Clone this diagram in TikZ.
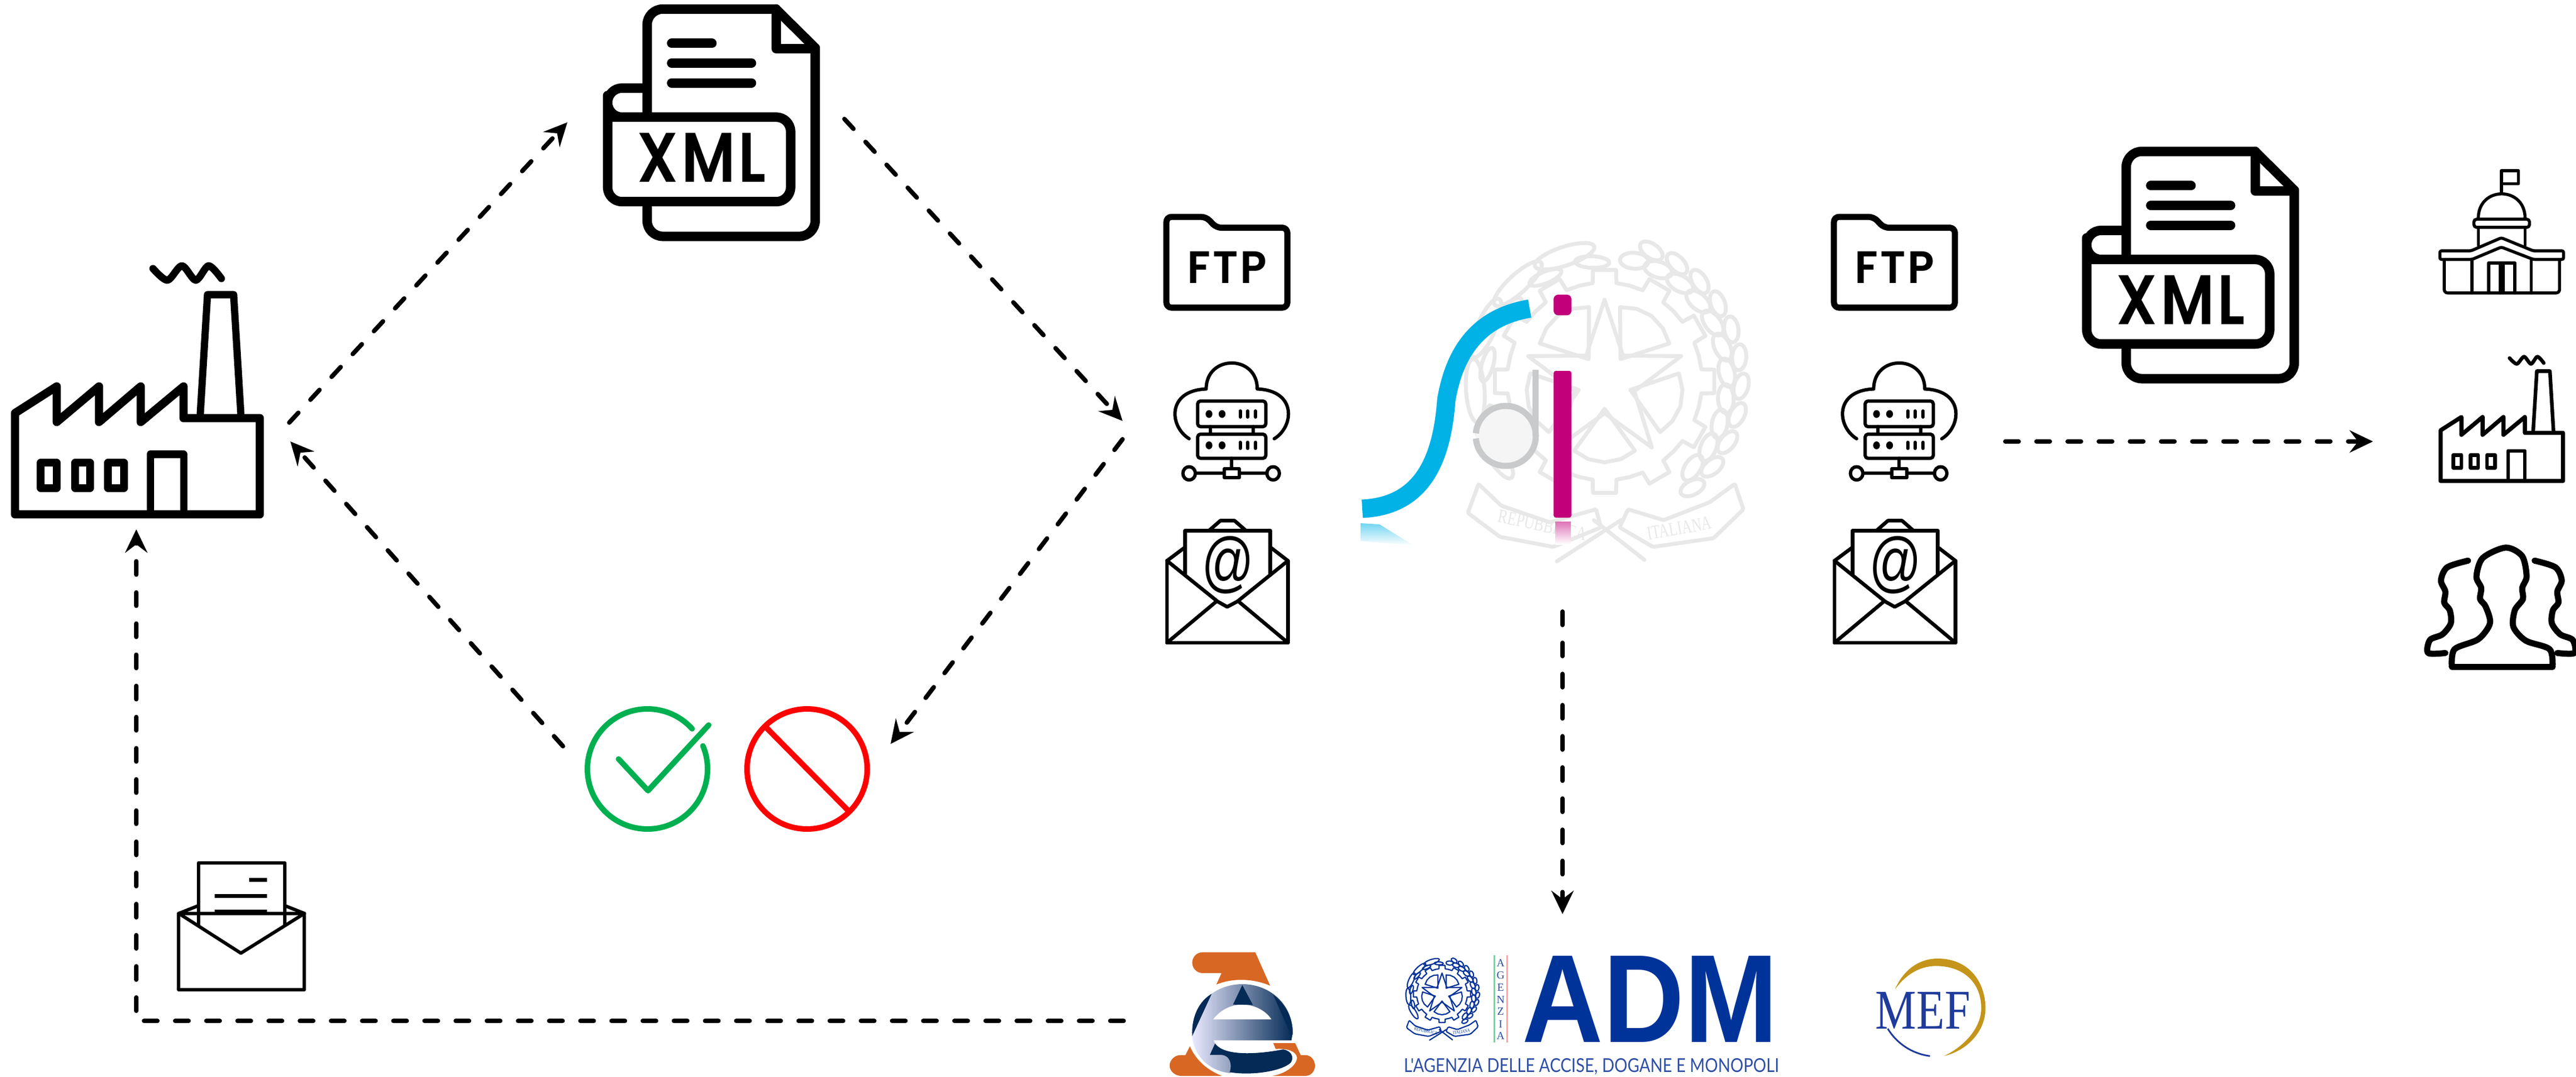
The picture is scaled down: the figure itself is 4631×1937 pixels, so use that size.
\documentclass[tikz,border=0pt]{standalone}
\usepackage{fontspec}
\usepackage{graphicx}
\usetikzlibrary{arrows.meta,calc}
\newfontfamily\rndfont{Poppins SemiBold}[LetterSpace=5]
\newfontfamily\helfont{Liberation Sans}
\newfontfamily\serfont{Liberation Serif}
\newfontfamily\latofont{Lato}
\definecolor{sdiblue}{HTML}{00B2E6}
\definecolor{sdipink}{HTML}{C2007A}
\definecolor{sdigray}{HTML}{C8CACC}
\definecolor{okgreen}{HTML}{00B050}
\definecolor{admblue}{HTML}{003399}
\definecolor{admtxt}{HTML}{2F4FA5}
\definecolor{eorange}{HTML}{D86724}
\definecolor{enavy}{HTML}{042A56}
\definecolor{mefgold}{HTML}{C4951A}
\definecolor{mefblue}{HTML}{1F3B9B}
\tikzset{
  flow/.style={line width=.08cm,dash pattern=on .24cm off .32cm,line cap=round,
    -{Stealth[length=.42cm,width=.4cm,inset=.15cm]}},
  ink/.style={line join=round,line cap=round},
  tx/.style={inner sep=0pt,outer sep=0pt},
}
\newcommand{\factoryicon}[3]{%
\begin{scope}[shift={#1},scale=#2,line width=#3,ink]
  \draw[line width=1.15*#3] (27,925) -- (27,743) -- (102,695) -- (102,759) -- (178,695) -- (178,759) -- (253,695) -- (253,759) -- (330,695) -- (330,752) -- (467,752) -- (467,925) -- cycle;
  \draw (360,745) -- (373,530) -- (420,530) -- (433,745);
  \draw (73,832) rectangle (102,878);
  \draw (135,832) rectangle (162,878);
  \draw (194,832) rectangle (223,878);
  \draw (270,925) -- (270,817) -- (330,817) -- (330,925);
  \draw plot[smooth] coordinates {(275,483) (301,504) (327,478) (352,504) (375,478) (398,501)};
\end{scope}}
\newcommand{\xmlicon}[1]{%
\begin{scope}[shift={#1},xscale=.658,yscale=.67,line width=.17cm,ink]
  \draw[rounded corners=.28cm] (338,385) -- (338,108) -- (690,108);
  \draw (690,108) -- (797,212);
  \draw[rounded corners=.28cm] (797,212) -- (797,718) -- (338,718) -- (338,640);
  \draw (690,108) -- (690,214) -- (797,214);
  \draw (405,200) -- (515,200) (405,253) -- (623,253) (405,306) -- (623,306);
  \draw[rounded corners=.26cm] (338,320) -- (230,320) -- (230,625) -- (730,625) -- (730,398) -- (270,398) -- (230,398) -- (230,340);
  \node[tx] at (487,506) {\resizebox{2.31cm}{.88cm}{\rndfont XML}};
\end{scope}}
\newcommand{\fmsicons}[1]{%
\begin{scope}[shift={#1},xscale=1/.98,yscale=1/1.845,ink]
  % folder
  \draw[line width=.11cm,rounded corners=.09cm] (95,375) -- (95,74) -- (165,74) -- (183,110) -- (308,110) -- (308,375) -- cycle;
  \node[tx] at (202,242) {\resizebox{1.43cm}{.57cm}{\rndfont FTP}};
  % cloud server
  \begin{scope}[line width=.06cm]
  \draw (135,810) .. controls (100,770) and (95,650) .. (165,645) .. controls (165,530) and (255,530) .. (255,645) .. controls (325,650) and (320,770) .. (285,810);
  \draw[rounded corners=.05cm] (150,685) rectangle (270,770);
  \draw[rounded corners=.05cm] (150,795) rectangle (270,875);
  \draw (172,770) -- (172,795) (248,770) -- (248,795);
  \draw (210,875) -- (210,925) (148,925) -- (270,925);
  \filldraw[fill=white] (197,910) rectangle (223,940);
  \filldraw[fill=white] (135,925) ellipse (11 and 22);
  \filldraw[fill=white] (283,925) ellipse (11 and 22);
  \foreach \yy in {728,832}{
    \fill (170,\yy) ellipse (6 and 13);
    \fill (193,\yy) ellipse (6 and 13);
    \draw (225,\yy-10) -- (225,\yy+10) (238,\yy-10) -- (238,\yy+10) (252,\yy-10) -- (252,\yy+10);
  }
  \end{scope}
  % mail
  \begin{scope}[line width=.065cm]
  \draw (96,1215) -- (96,1487) -- (309,1487) -- (309,1215);
  \draw (96,1215) -- (128,1170) (309,1215) -- (278,1170);
  \draw (128,1262) -- (128,1115) -- (278,1115) -- (278,1262);
  \draw (170,1115) -- (190,1082) -- (215,1082) -- (235,1115);
  \draw (96,1215) -- (185,1350) -- (202,1368) -- (220,1350) -- (309,1215);
  \draw (96,1487) -- (183,1350) (309,1487) -- (222,1350);
  \end{scope}
  \node[tx] at (203,1230) {\resizebox{.94cm}{.87cm}{\helfont @}};
\end{scope}}
\newcommand{\italemblem}[2]{%
\begin{scope}[draw=#1,line width=#2,ink]
 \begin{scope}[shift={(277,263)}]
  \draw (-90:113) -- (-54:44) -- (-18:113) -- (18:44) -- (54:113) -- (90:44) -- (126:113) -- (162:44) -- (198:113) -- (234:44) -- cycle;
  \foreach \a in {-54,18,90,162,234}{
    \draw ({\a-24}:105) -- ({\a-12}:110) -- (\a:112) -- ({\a+12}:110) -- ({\a+24}:105) -- (\a:38) -- cycle;
  }
  \foreach \a in {-90,-60,...,240}{
    \draw ({\a-15}:137) -- ({\a-7}:137) -- ({\a-6}:155) -- ({\a+6}:155) -- ({\a+7}:137) -- ({\a+15}:137);
  }
  \foreach \a in {252,228,204,176,148}{
    \draw[shift={(\a:182)},rotate={90-\a}] (0,0) ellipse (44 and 13);
    \draw[shift={({\a+12}:166)},rotate={70-\a}] (0,0) ellipse (24 and 8);
  }
  \foreach \a in {-76,-64,...,44}{
    \draw[shift={(\a:172)},rotate={100-\a}] (0,0) ellipse (20 and 11);
    \draw[shift={({\a+6}:192)},rotate={70-\a}] (0,0) ellipse (18 and 10);
  }
 \end{scope}
 \draw[rounded corners=.02cm] (100,405) -- (85,445) -- (130,478) -- (205,492) -- (272,465) -- (265,440) -- (200,458) -- (132,435) -- cycle;
 \draw[rounded corners=.02cm] (460,405) -- (472,440) -- (430,480) -- (345,492) -- (298,465) -- (310,440) -- (360,455) -- (425,430) -- cycle;
 \draw (210,512) -- (300,455) (333,510) -- (262,455);
 \node[tx,transform shape,rotate=-12,text=#1] at (190,462) {\resizebox{36pt}{5pt}{\serfont REPUBBLICA}};
 \node[tx,transform shape,rotate=10,text=#1] at (382,466) {\resizebox{26pt}{5pt}{\serfont ITALIANA}};
\end{scope}}
\begin{document}
\begin{tikzpicture}[x=.01cm,y=-.01cm]
\useasboundingbox (0,0) rectangle (4631,1937);

% connector ends
\coordinate (facOut) at (520,760);
\coordinate (xmlIn) at (1020,220);
\coordinate (xmlOut) at (1518,214);
\coordinate (srvIn) at (2018,757);
\coordinate (srvOut) at (2018,790);
\coordinate (noIn) at (1601,1338);
\coordinate (okOut) at (1012,1342);
\coordinate (facIn) at (522,794);
\coordinate (aeOut) at (2020,1836);
\coordinate (bend) at (245,1836);
\coordinate (facBot) at (245,952);
\coordinate (sdiOut) at (2809,1100);
\coordinate (admIn) at (2809,1644);
\coordinate (outA) at (3605,794);
\coordinate (outB) at (4266,794);

% factory, XML
\factoryicon{(0,0)}{1}{.13cm}
\xmlicon{(941,-56)}
\xmlicon{(3600,200)}
\fmsicons{(2000,350)}
\fmsicons{(3200,350)}

% SDI logo
\begin{scope}[shift={(2530,344)},xscale=1.28,yscale=1.3]
  \italemblem{black!9}{.07cm}
\end{scope}
\draw[sdiblue,line width=.33cm] (2449,915) .. controls (2555,910) and (2592,830) .. (2600,720) .. controls (2615,630) and (2660,570) .. (2750,555);
\shade[top color=sdiblue!55,bottom color=white] (2446,941) -- (2480,943) -- (2541,981) -- (2446,973) -- cycle;
\filldraw[draw=sdigray,fill=black!4,line width=.11cm] (2707,784) ++(185:54) arc[start angle=185,end angle=535,radius=54];
\draw[sdigray,line width=.11cm] (2760,665) -- (2760,785);
\fill[sdipink,rounded corners=.04cm] (2793,667) rectangle (2825,931);
\fill[sdipink,rounded corners=.08cm] (2793,530) rectangle (2825,567);
\shade[top color=sdipink!55,bottom color=white] (2796,938) rectangle (2824,979);

% outcome icons
\draw[okgreen,line width=.1cm,ink] (1164,1383) ++(-42:108) arc[start angle=-42,end angle=-382.6,radius=108];
\draw[okgreen,line width=.1cm,ink] (1112,1365) -- (1165,1422) -- (1274,1304);
\draw[red,line width=.1cm] (1451,1383) circle (108);
\draw[red,line width=.1cm] (1377,1308) -- (1525,1458);

% small envelope
\begin{scope}[shift={(250,1200)},xscale=1/1.12,yscale=1/2.45,line width=.06cm,ink]
  \draw (80,1085) rectangle (333,1422);
  \draw (120,1135) -- (120,862) -- (293,862) -- (293,1135);
  \draw (80,1085) -- (205,1260) -- (333,1085);
  \draw (80,1085) -- (118,1052) (333,1085) -- (295,1052);
  \draw[line cap=butt,line width=.07cm] (222,936) -- (258,936) (152,1007) -- (258,1007) (152,1078) -- (258,1078);
\end{scope}

% e logo
\begin{scope}[shift={(2090,1700)},scale=1/3]
  \fill[eorange] (500,38) -- (580,218) .. controls (490,180) and (380,175) .. (290,212) -- (318,150) -- (215,150) .. controls (185,150) and (160,125) .. (160,94) .. controls (160,63) and (185,38) .. (215,38) -- cycle;
  \fill[eorange] (147,545) .. controls (175,610) and (230,670) .. (320,705) -- (95,705) .. controls (55,700) and (38,670) .. (38,650) .. controls (38,620) and (65,593) .. (95,593) -- (123,593) -- cycle;
  \fill[eorange] (597,528) -- (715,528) -- (745,593) -- (770,593) .. controls (800,593) and (822,620) .. (822,650) .. controls (822,680) and (800,705) .. (770,705) -- (590,705) .. controls (660,695) and (725,650) .. (725,605) .. controls (720,575) and (680,555) .. (610,560) -- cycle;
  \shade[left color=blue!8!white,right color=enavy] (695,513) -- (702,470) .. controls (700,320) and (580,210) .. (430,210) .. controls (280,210) and (158,320) .. (158,470) .. controls (158,590) and (250,680) .. (365,690) .. controls (380,650) and (360,592) .. (320,592) -- (255,592) -- (283,530) -- (275,513) -- cycle;
  \fill[white] (273,400) .. controls (310,350) and (370,320) .. (430,320) .. controls (490,320) and (555,350) .. (587,400) -- cycle;
  \fill[enavy] (430,215) -- (380,320) -- (487,322) -- cycle;
  \fill[enavy] (265,262) .. controls (200,300) and (155,380) .. (160,490) -- cycle;
  \fill[enavy] (597,268) .. controls (660,320) and (702,390) .. (702,480) -- (695,490) -- cycle;
  \fill[enavy] (283,530) -- (255,592) -- (320,592) .. controls (360,595) and (378,640) .. (362,685) .. controls (480,705) and (640,680) .. (690,635) .. controls (710,610) and (700,570) .. (650,562) .. controls (560,580) and (340,610) .. (283,530) -- cycle;
\end{scope}

% ADM logo
\begin{scope}[shift={(2500,1700)},scale=1/3]
  \italemblem{admblue}{.022cm}
\end{scope}
\draw[okgreen!55,line width=.033cm] (2686.7,1718) -- (2686.7,1875);
\draw[red!35,line width=.033cm] (2709.3,1718) -- (2709.3,1875);
\foreach \ch/\yy in {A/1732,G/1754,E/1776,N/1798,Z/1819,I/1842,A/1863}{
  \node[tx,text=admtxt] at (2697.7,\yy) {\resizebox{!}{.13cm}{\serfont \ch}};
}
\node[tx,text=admblue] (adm) at (2966.5,1796.5) {\resizebox{4.59cm}{1.55cm}{\helfont\bfseries ADM}};
\node[tx,text=admtxt] (admsub) at (2861,1918) {\resizebox{6.74cm}{.25cm}{\latofont L'AGENZIA DELLE ACCISE, DOGANE E MONOPOLI}};

% MEF logo
\begin{scope}[shift={(2000,1650)},xscale=1/.922,yscale=1/3]
  \fill[mefgold] (1297,388) .. controls (1310,290) and (1335,222) .. (1368,222) .. controls (1420,222) and (1447,350) .. (1447,490) .. controls (1447,620) and (1415,720) .. (1378,748) .. controls (1410,700) and (1440,600) .. (1440,490) .. controls (1440,350) and (1410,262) .. (1365,262) .. controls (1335,262) and (1312,320) .. (1297,388) -- cycle;
  \draw[mefblue,line width=.03cm] (1285,600) .. controls (1300,680) and (1325,735) .. (1355,748);
\end{scope}
\node[tx,text=mefblue] (mef) at (3457,1817) {\resizebox{1.7cm}{.66cm}{\serfont MEF}};

% recipients
\begin{scope}[shift={(3600,200)},xscale=1/1.52,yscale=1/1.493,line width=.055cm,ink]
  \draw (1363,218) -- (1363,160) -- (1410,160) -- (1410,195) -- (1363,195);
  \draw (1300,288) .. controls (1300,200) and (1428,200) .. (1428,288);
  \draw[rounded corners=.05cm] (1288,290) rectangle (1440,312);
  \draw (1300,312) -- (1300,360) (1428,312) -- (1428,360);
  \draw[rounded corners=.03cm] (1195,375) -- (1280,375) -- (1363,340) -- (1450,375) -- (1533,375) -- (1533,398) -- (1450,398) -- (1363,365) -- (1283,398) -- (1195,398) -- cycle;
  \draw[rounded corners=.06cm] (1207,400) -- (1207,488) -- (1522,488) -- (1522,400);
  \draw (1283,398) -- (1283,488) (1445,398) -- (1445,488);
  \draw (1328,488) -- (1328,408) -- (1400,408) -- (1400,488) (1360,408) -- (1360,488) (1368,408) -- (1368,488);
\end{scope}
\factoryicon{(4374,402.5)}{.5}{.065cm}
\begin{scope}[shift={(3600,200)},xscale=1/1.52,yscale=1/1.493,line width=.11cm,ink]
  \draw plot[smooth] coordinates {(1228,1492) (1235,1445) (1300,1418) (1332,1375) (1320,1330) (1305,1310) (1308,1280) (1295,1250) (1312,1200) (1375,1172) (1420,1195) (1432,1250) (1420,1280) (1422,1310) (1400,1340) (1396,1385) (1430,1422) (1495,1445) (1503,1492)};
  \draw (1228,1492) -- (1503,1492);
  \draw plot[smooth] coordinates {(1210,1455) (1163,1455) (1168,1420) (1202,1405) (1225,1375) (1222,1340) (1207,1320) (1210,1290) (1198,1260) (1215,1225) (1272,1207)};
  \draw plot[smooth] coordinates {(1516,1455) (1563,1455) (1558,1420) (1524,1405) (1501,1375) (1504,1340) (1519,1320) (1516,1290) (1528,1260) (1511,1225) (1454,1207)};
\end{scope}

% connectors
\draw[flow] (facOut) -- (xmlIn);
\draw[flow] (xmlOut) -- (srvIn);
\draw[flow] (srvOut) -- (noIn);
\draw[flow] (okOut) -- (facIn);
\draw[flow] (aeOut) -- (bend) -- (facBot);
\draw[flow] (sdiOut) -- (admIn);
\draw[flow] (outA) -- (outB);
\end{tikzpicture}
\end{document}
